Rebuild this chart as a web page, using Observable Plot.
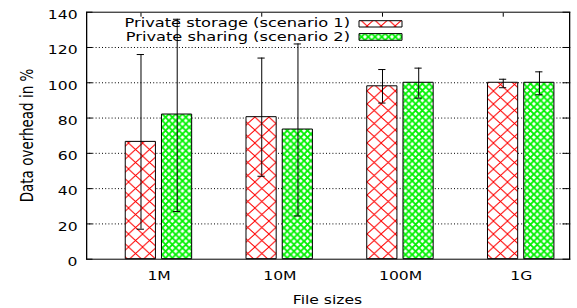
<!DOCTYPE html>
<html>
<head>
<meta charset="utf-8">
<script src="https://cdn.jsdelivr.net/npm/d3@7"></script>
<script src="https://cdn.jsdelivr.net/npm/@observablehq/plot@0.6"></script>
<style>
  html, body { margin: 0; padding: 0; background: white; }
  #chart g line, #chart g path, #chart g rect { vector-effect: non-scaling-stroke; }
</style>
</head>
<body>
<div id="chart"></div>
<script>
// ---- data ----
const categories = ["1M", "10M", "100M", "1G"];
const seriesNames = ["Private storage (scenario 1)", "Private sharing (scenario 2)"];
const storage   = [66.5, 80.5, 98, 100];
const storageLo = [17, 47, 88.5, 97.2];
const storageHi = [116, 114, 107.5, 102];
const sharing   = [82, 73.5, 100, 100];
const sharingLo = [27, 24.5, 91.3, 93.2];
const sharingHi = [136, 122, 108.3, 106.2];
const yTicks = [0, 20, 40, 60, 80, 100, 120, 140];

// ---- layout ----
const W = 577, H = 308, VW = 444;     // drawn in a narrower viewBox, stretched horizontally
const S = W / VW;
const half = 0.125, capHalf = 0.03;

const bars = [];
categories.forEach((c, i) => {
  bars.push({cat: c, i, s: 0, off: -0.15, value: storage[i], lo: storageLo[i], hi: storageHi[i]});
  bars.push({cat: c, i, s: 1, off: 0.15, value: sharing[i], lo: sharingLo[i], hi: sharingHi[i]});
});
const red = bars.filter(d => d.s === 0), green = bars.filter(d => d.s === 1);
const cx = d => d.i + d.off;

const svg = Plot.plot({
  width: VW, height: H,
  marginTop: 11.7, marginBottom: H - 258.7,
  marginLeft: 86 / S, marginRight: (W - 569) / S,
  style: {fontFamily: "DejaVu Sans", fontSize: "12px", color: "black", background: "white", overflow: "visible"},
  x: {type: "linear", domain: [-0.6, 3.4]},
  y: {domain: [0, 140]},
  marks: [
    Plot.gridY([20, 40, 60, 80, 100, 120], {stroke: "black", strokeOpacity: 1, strokeDasharray: "1,2.2"}),
    Plot.rect(red, {x1: d => cx(d) - half, x2: d => cx(d) + half, y1: 0, y2: "value", fill: "url(#pRed)", stroke: "black", strokeWidth: 1}),
    Plot.rect(green, {x1: d => cx(d) - half, x2: d => cx(d) + half, y1: 0, y2: "value", fill: "url(#pGreen)", stroke: "black", strokeWidth: 1}),
    Plot.ruleX(bars, {x: cx, y1: "lo", y2: "hi", stroke: "black"}),
    Plot.ruleY(bars, {y: "hi", x1: d => cx(d) - capHalf, x2: d => cx(d) + capHalf, stroke: "black"}),
    Plot.ruleY(bars, {y: "lo", x1: d => cx(d) - capHalf, x2: d => cx(d) + capHalf, stroke: "black"}),
    Plot.axisY(yTicks, {anchor: "left", tickSize: 0, tickPadding: 7, dy: 3, fontSize: 12, label: null}),
    Plot.axisY(yTicks, {anchor: "left", tickSize: -5, tickFormat: () => "", label: null}),
    Plot.axisY(yTicks, {anchor: "right", tickSize: -6, tickFormat: () => "", label: null}),
    Plot.axisX(categories.map((c, i) => i), {anchor: "bottom", tickSize: 0, tickPadding: 12, tickFormat: i => categories[i], fontSize: 12, label: null}),
    Plot.axisX(red.map(cx), {anchor: "top", tickSize: -4, tickFormat: () => "", label: null}),
    Plot.frame({stroke: "black"})
  ]
});

svg.setAttribute("width", W);
svg.setAttribute("height", H);
svg.setAttribute("viewBox", `0 0 ${VW} ${H}`);
svg.setAttribute("preserveAspectRatio", "none");
svg.style.width = W + "px";
svg.style.height = H + "px";
svg.style.maxWidth = "none";
document.getElementById("chart").appendChild(svg);

const root = d3.select(svg);
const defs = root.insert("defs", ":first-child");
// red wide crosshatch
const pr = defs.append("pattern").attr("id", "pRed").attr("patternUnits", "userSpaceOnUse")
  .attr("width", 10.8).attr("height", 13).attr("x", 282.5 % 10.8);
pr.append("rect").attr("width", 10.8).attr("height", 13).attr("fill", "white");
pr.append("path").attr("d", "M0,0L10.8,13M10.8,0L0,13").attr("stroke", "#ff0000").attr("stroke-width", 0.8).attr("fill", "none");
// green fine crosshatch
const pg = defs.append("pattern").attr("id", "pGreen").attr("patternUnits", "userSpaceOnUse")
  .attr("width", 5.2).attr("height", 6.7);
pg.append("rect").attr("width", 5.2).attr("height", 6.7).attr("fill", "white");
pg.append("path").attr("d", "M0,0L5.2,6.7M5.2,0L0,6.7").attr("stroke", "#00f000").attr("stroke-width", 1.6).attr("fill", "none");

// legend
const leg = root.append("g").attr("font-family", "DejaVu Sans").attr("font-size", 12.5).attr("fill", "black");
[[26.6, 20.7, 6.3, "pRed"], [41.1, 33.6, 6.7, "pGreen"]].forEach(([ty, ry, rh, pat], k) => {
  leg.append("text").attr("x", 350 / S).attr("y", ty).attr("text-anchor", "end").text(seriesNames[k]);
  leg.append("rect").attr("x", 359 / S).attr("y", ry).attr("width", 43 / S).attr("height", rh)
    .attr("fill", `url(#${pat})`).attr("stroke", "black").style("vector-effect", "non-scaling-stroke");
});

// axis titles
root.append("text").attr("x", 327.5 / S).attr("y", 304).attr("text-anchor", "middle")
  .attr("font-family", "DejaVu Sans").attr("font-size", 12).text("File sizes");
root.append("text").attr("transform", `translate(${33 / S},135.5) rotate(-90)`).attr("text-anchor", "middle")
  .attr("font-family", "DejaVu Sans").attr("font-size", 13.5).text("Data overhead in %");
</script>
</body>
</html>
